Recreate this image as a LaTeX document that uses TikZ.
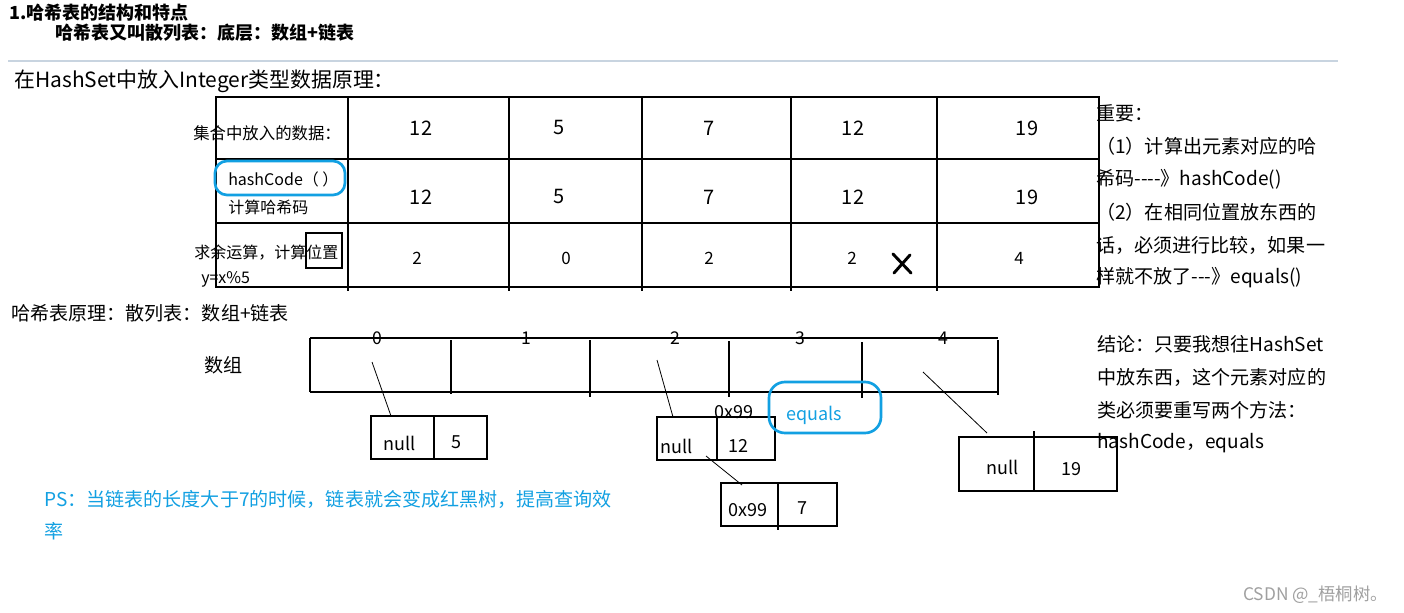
\documentclass[tikz,border=0pt]{standalone}
\usepackage{fontspec}
\setmainfont{Noto Sans CJK SC}[Ligatures=TeXOff]
\usetikzlibrary{fit}
\definecolor{hblue}{RGB}{18,160,226}
\definecolor{sepgray}{RGB}{200,212,224}
\definecolor{wmgray}{RGB}{160,160,160}
\begin{document}
\begin{tikzpicture}[x=0.75pt,y=-0.75pt,
  lbl/.style={inner sep=0pt, anchor=west, font=\fontsize{14.3}{16}\selectfont},
  hdr/.style={inner sep=0pt, anchor=west, font=\fontsize{13.5}{16}\selectfont\bfseries},
  big/.style={inner sep=0pt, anchor=west, font=\fontsize{15.7}{18}\selectfont},
  sml/.style={inner sep=0pt, anchor=west, font=\fontsize{12}{14}\selectfont},
  num/.style={inner sep=0pt, font=\fontsize{15}{18}\selectfont},
  snum/.style={inner sep=0pt, font=\fontsize{12.75}{15}\selectfont},
  idx/.style={inner sep=0pt, font=\fontsize{13.2}{15}\selectfont},
  boxt/.style={inner sep=0pt, font=\fontsize{13.5}{16}\selectfont},
  grid/.style={line width=1.3pt},
  boxl/.style={line width=1.1pt},
  cellbox/.style={draw, line width=1.1pt, inner sep=0pt},
  hl/.style={draw=hblue, line width=2pt, rounded corners=9pt, inner sep=0pt},
  conn/.style={line width=0.6pt},
]
\useasboundingbox[fill=white] (0,0) rectangle (1404,613);

% header
\node[hdr] (h1) at (9,13) {1.哈希表的结构和特点};
\node[hdr] (h2) at (55,33) {哈希表又叫散列表：底层：数组+链表};
\draw[sepgray, line width=0.9pt] (8,61) -- (1338,61);
\node[big] (h3) at (14,81) {在HashSet中放入Integer类型数据原理：};

% table
\draw[grid] (216,97) rectangle (1099,287);
\foreach \yy in {159,223} \draw[grid] (216,\yy) -- (1099,\yy);
\foreach \xx in {348,509,642,791,937} \draw[grid] (\xx,97) -- (\xx,291);

\node[sml, font=\fontsize{12.3}{14}\selectfont] (r1) at (193,133) {集合中放入的数据：};
\node[num] (a1) at (421,128) {12};
\node[num] (a2) at (559,128) {5};
\node[num] (a3) at (709,128) {7};
\node[num] (a4) at (853,128) {12};
\node[num] (a5) at (1027,128) {19};

\node[hl, fit={(215,161)(345,195)}] (hlhash) {};
\node[sml] (r2) at (228,179) {hashCode（ ）};
\node[sml] (r2b) at (228,207) {计算哈希码};
\node[num] (c1) at (421,197) {12};
\node[num] (c2) at (559,197) {5};
\node[num] (c3) at (709,197) {7};
\node[num] (c4) at (853,197) {12};
\node[num] (c5) at (1027,197) {19};

\node[sml] (r3) at (194,253) {求余运算，计算位置};
\node[draw, line width=0.8pt, inner sep=0pt, fit={(306,233)(342,268)}] (posbox) {};
\node[sml] (r3b) at (201,279) {y=x\%5};
\node[snum] (d1) at (417,258) {2};
\node[snum] (d2) at (566,258) {0};
\node[snum] (d3) at (709,258) {2};
\node[snum] (d4) at (852,258) {2};
\node[snum] (d5) at (1019,258) {4};
\draw[line width=2.2pt, line cap=round] (893,254) -- (911,273);
\draw[line width=2.2pt, line cap=round] (910,255) -- (894,273);

% right notes
\node[lbl] (n1) at (1096,113) {重要：};
\node[lbl] (n2) at (1096,146) {（1）计算出元素对应的哈};
\node[lbl] (n3) at (1096,179) {希码----》hashCode()};
\node[lbl] (n4) at (1096,212) {（2）在相同位置放东西的};
\node[lbl] (n5) at (1096,245) {话，必须进行比较，如果一};
\node[lbl] (n6) at (1096,278) {样就不放了---》equals()};

% hash table principle
\node[lbl] (p1) at (11,313) {哈希表原理：散列表：数组+链表};
\node[lbl] (arr) at (204,365) {数组};

\draw[grid] (310,338) -- (998,338);
\draw[grid] (310,392) -- (998,392);
\draw[grid] (310,338) -- (310,392);
\draw[grid] (998,340) -- (998,395);
\draw[grid] (451,340) -- (451,394);
\draw[grid] (590,340) -- (590,397);
\draw[grid] (729,341) -- (729,397);
\draw[grid] (862,342) -- (862,398);

\node[idx] (i0) at (377,338) {0};
\node[idx] (i1) at (526,338) {1};
\node[idx] (i2) at (675,338) {2};
\node[idx] (i3) at (800,338) {3};
\node[idx] (i4) at (943,338) {4};

% bucket 0
\node[cellbox, fit={(371,416)(487,459)}] (b0) {};
\draw[boxl] (434,416) -- (434,459);
\node[boxt, anchor=west] (b0n) at (383,443) {null};
\node[boxt] (b0v) at (456,442) {5};
\coordinate (s0) at (372,362);
\coordinate (e0) at (391,416);
\draw[conn] (s0) -- (e0);

% bucket 2
\node[cellbox, fit={(657,417)(775,460)}] (b2) {};
\draw[boxl] (717,417) -- (717,460);
\node[boxt, anchor=west] (b2n) at (660,446) {null};
\node[boxt] (b2v) at (738,446) {12};
\node[boxt] (b2a) at (734,412) {0x99};
\coordinate (s2) at (657,360);
\coordinate (e2) at (673,417);
\draw[conn] (s2) -- (e2);

\node[cellbox, fit={(721,483)(837,526)}] (b7) {};
\draw[boxl] (778,483) -- (778,530);
\node[boxt, anchor=west] (b7n) at (728,510) {0x99};
\node[boxt] (b7v) at (802,508) {7};
\coordinate (s7) at (706,456);
\coordinate (e7) at (742,485);
\draw[conn] (s7) -- (e7);

\node[hl, rounded corners=12pt, fit={(769,382)(881,433)}] (hleq) {};
\node[boxt, anchor=west, text=hblue] (eq) at (786,415) {equals};

% bucket 4
\node[cellbox, fit={(959,437)(1117,491)}] (b4) {};
\draw[boxl] (1034,431) -- (1034,491);
\node[boxt] (b4n) at (1003,467) {null};
\node[boxt] (b4v) at (1071,469) {19};
\coordinate (s4) at (923,372);
\coordinate (e4) at (987,433);
\draw[conn] (s4) -- (e4);

% conclusion
\node[lbl] (k1) at (1097,344) {结论：只要我想往HashSet};
\node[lbl] (k2) at (1097,377) {中放东西，这个元素对应的};
\node[lbl] (k3) at (1097,410) {类必须要重写两个方法：};
\node[lbl] (k4) at (1097,443) {hashCode，equals};

% PS
\node[lbl, text=hblue] (ps1) at (44,499) {PS：当链表的长度大于7的时候，链表就会变成红黑树，提高查询效};
\node[lbl, text=hblue] (ps2) at (44,531) {率};

% watermark
\node[inner sep=0pt, anchor=west, text=wmgray, font=\fontsize{13}{15}\selectfont] (wm) at (1243,595) {CSDN @\_梧桐树。};
\end{tikzpicture}
\end{document}
